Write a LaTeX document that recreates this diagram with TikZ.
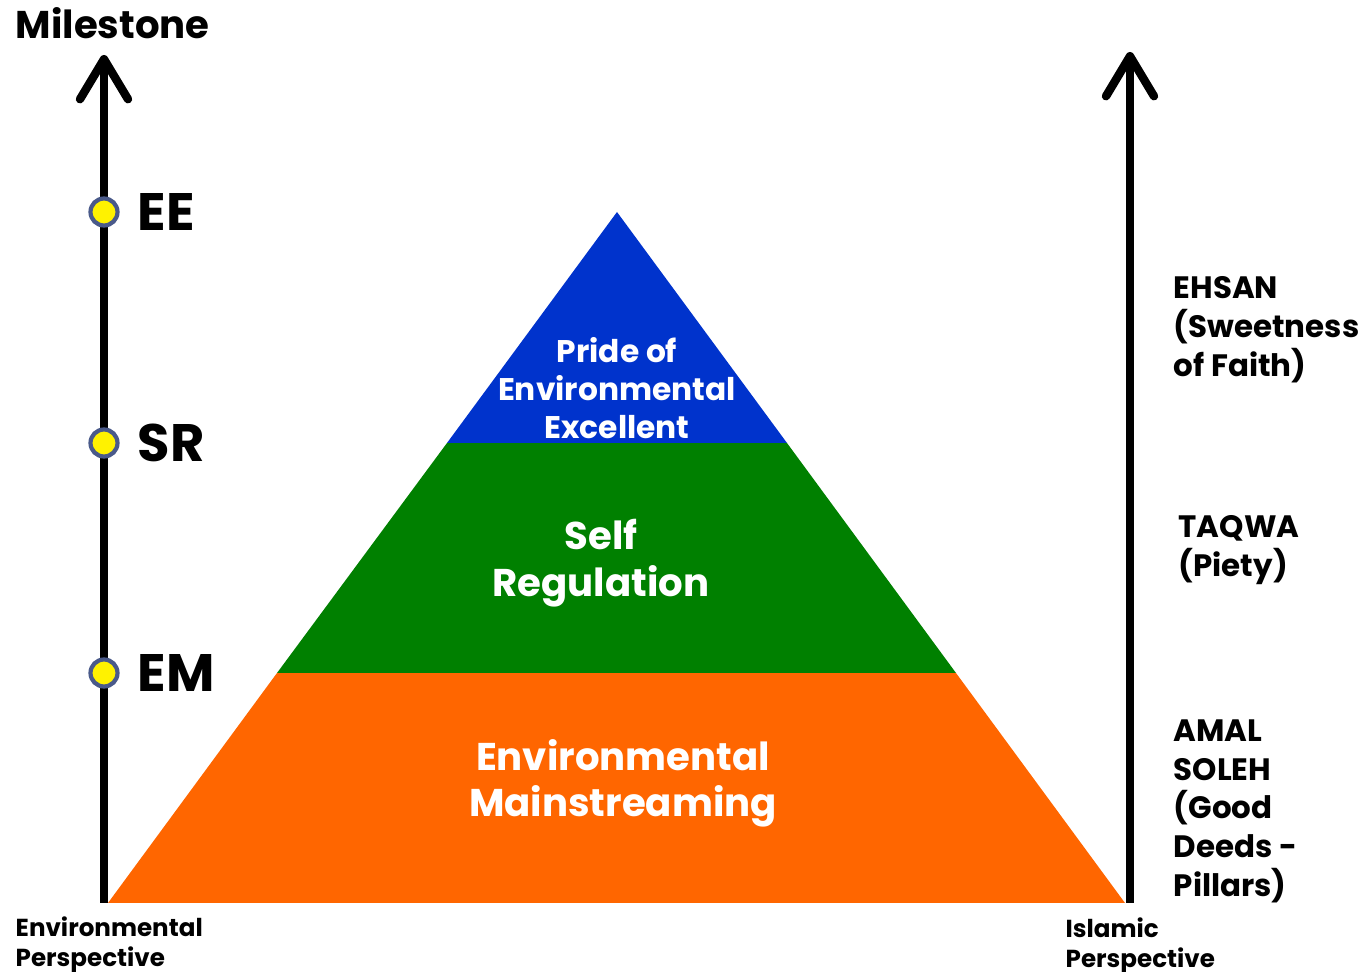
\documentclass[tikz,border=0pt]{standalone}
\usepackage{fontspec}
\setmainfont{Poppins}
\usepackage{xcolor}
\usetikzlibrary{arrows.meta}

\definecolor{topblue}{RGB}{0,51,204}
\definecolor{midgreen}{RGB}{0,128,0}
\definecolor{baseorange}{RGB}{255,102,0}
\definecolor{dotring}{RGB}{74,90,138}

\begin{document}
\begin{tikzpicture}[
        axis/.style={line width=2.4pt, -{Straight Barb[length=4mm,width=4.8mm,round]}},
        milestone/.style={circle, fill=yellow, draw=dotring, line width=1.2pt, minimum size=0.27cm, inner sep=0pt},
        stage/.style={anchor=west, inner sep=0pt, font=\bfseries\fontsize{15}{18}\selectfont},
        layertext/.style={text=white, align=center},
        sidetext/.style={anchor=north west, inner sep=0pt, align=left, font=\bfseries\fontsize{8.8}{11}\selectfont},
        foottext/.style={anchor=north west, inner sep=0pt, align=left, font=\bfseries\fontsize{7}{8.5}\selectfont}
    ]

        \useasboundingbox (0, 0) rectangle (13.7, 9.72);

        % pyramid layers
        \coordinate (baseL) at (1.08, 0.69);
        \coordinate (baseR) at (11.25, 0.69);
        \coordinate (apex) at (6.17, 7.60);

        \fill[baseorange] (baseL) -- (baseR) -- (9.56, 2.99) -- (2.77, 2.99) -- cycle;

        \fill[midgreen] (2.77, 2.99) -- (9.56, 2.99) -- (7.87, 5.29) -- (4.47, 5.29) -- cycle;

        \fill[topblue] (4.47, 5.29) -- (7.87, 5.29) -- (apex) -- cycle;

        \node[layertext, font=\bfseries\fontsize{8.9}{10.8}\selectfont] (pride) at (6.17, 5.84) {Pride of\\Environmental\\Excellent};

        \node[layertext, font=\bfseries\fontsize{11}{13.4}\selectfont] (selfreg) at (6.01, 4.09) {Self\\Regulation};

        \node[layertext, font=\bfseries\fontsize{11}{13.1}\selectfont] (envmain) at (6.23, 1.89) {Environmental\\Mainstreaming};

        % axes
        \coordinate (envbottom) at (1.04, 0.69);
        \coordinate (envtop) at (1.04, 9.17);
        \coordinate (islbottom) at (11.30, 0.69);
        \coordinate (isltop) at (11.30, 9.20);

        \draw[axis] (envbottom) -- (envtop);

        \draw[axis] (islbottom) -- (isltop);

        \node[anchor=north west, inner sep=0pt, font=\bfseries\fontsize{11}{12}\selectfont] (milestone) at (0.15, 9.65) {Milestone};

        % milestones
        \node[milestone] (emdot) at (1.04, 2.99) {};
        \node[milestone] (srdot) at (1.04, 5.29) {};
        \node[milestone] (eedot) at (1.04, 7.60) {};

        \node[stage] (em) at (1.37, 2.99) {EM};
        \node[stage] (sr) at (1.37, 5.29) {SR};
        \node[stage] (ee) at (1.37, 7.60) {EE};

        % islamic side
        \node[sidetext] (ehsan) at (11.73, 6.96) {EHSAN\\(Sweetness\\of Faith)};

        \node[sidetext] (taqwa) at (11.78, 4.57) {TAQWA\\(Piety)};

        \node[sidetext] (amal) at (11.73, 2.53) {AMAL\\SOLEH\\(Good\\Deeds -\\Pillars)};

        \node[foottext] (envpersp) at (0.15, 0.56) {Environmental\\Perspective};

        \node[foottext] (islpersp) at (10.65, 0.545) {Islamic\\Perspective};

    \end{tikzpicture}
\end{document}
